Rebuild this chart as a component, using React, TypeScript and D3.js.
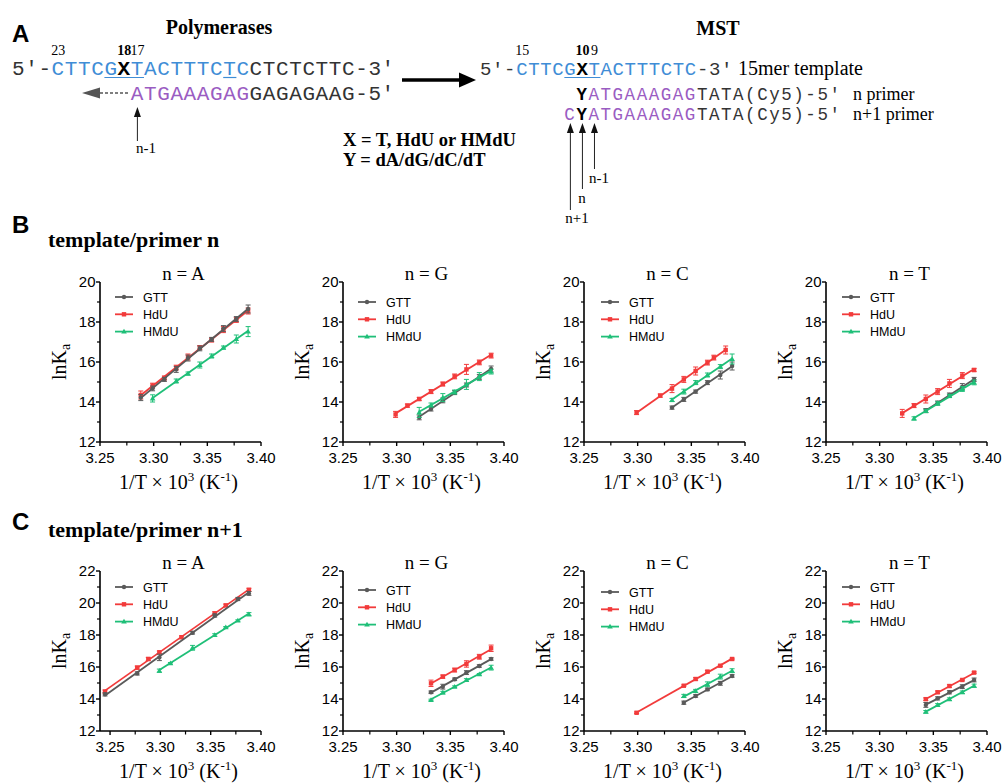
import React from "react";
import * as d3 from "d3";

type Pt = [number, number, number]; // [1/T*1e3, lnKa, error]

const seriesNames = ["GTT", "HdU", "HMdU"];
const drawOrder = ["HdU", "GTT", "HMdU"];
const panelTitles = ["n = A", "n = G", "n = C", "n = T"];
const xTickValues = [3.25, 3.3, 3.35, 3.4];
const xMinorTicks = [3.275, 3.325, 3.375];
const yTicksRowB = [12, 14, 16, 18, 20];
const yTicksRowC = [12, 14, 16, 18, 20, 22];

// ---- Panel B: template/primer n ----
const bA_GTT: Pt[] = [[3.288,14.22,0.15],[3.299,14.68,0.12],[3.310,15.13,0.1],[3.321,15.63,0.15],[3.332,16.2,0.15],[3.343,16.68,0.12],[3.354,17.13,0.1],[3.365,17.67,0.15],[3.377,18.15,0.12],[3.388,18.65,0.2]];
const bA_HdU: Pt[] = [[3.288,14.35,0.2],[3.299,14.82,0.12],[3.310,15.2,0.1],[3.321,15.72,0.12],[3.332,16.25,0.15],[3.343,16.72,0.1],[3.354,17.1,0.1],[3.365,17.62,0.15],[3.377,18.1,0.12],[3.388,18.55,0.15]];
const bA_HMdU: Pt[] = [[3.299,14.18,0.18],[3.321,15.05,0.1],[3.332,15.42,0.08],[3.343,15.85,0.15],[3.354,16.3,0.1],[3.365,16.72,0.08],[3.377,17.15,0.2],[3.388,17.52,0.25]];

const bG_GTT: Pt[] = [[3.321,13.23,0.12],[3.332,13.65,0.1],[3.343,14.08,0.12],[3.354,14.47,0.1],[3.365,14.85,0.1],[3.377,15.25,0.12],[3.388,15.65,0.15]];
const bG_HdU: Pt[] = [[3.299,13.38,0.15],[3.310,13.82,0.08],[3.321,14.15,0.08],[3.332,14.52,0.1],[3.343,14.9,0.1],[3.354,15.28,0.12],[3.365,15.63,0.25],[3.377,15.98,0.12],[3.388,16.32,0.12]];
const bG_HMdU: Pt[] = [[3.321,13.48,0.25],[3.332,13.85,0.1],[3.343,14.22,0.2],[3.354,14.5,0.1],[3.365,14.88,0.25],[3.377,15.27,0.2],[3.388,15.52,0.12]];

const bC_GTT: Pt[] = [[3.332,13.72,0.08],[3.343,14.13,0.1],[3.354,14.52,0.08],[3.365,14.97,0.1],[3.377,15.35,0.2],[3.388,15.8,0.2]];
const bC_HdU: Pt[] = [[3.299,13.47,0.1],[3.321,14.32,0.08],[3.332,14.67,0.2],[3.343,15.13,0.15],[3.354,15.55,0.2],[3.365,15.97,0.12],[3.371,16.22,0.12],[3.382,16.6,0.2]];
const bC_HMdU: Pt[] = [[3.332,14.1,0.08],[3.343,14.52,0.12],[3.354,14.97,0.1],[3.365,15.35,0.1],[3.377,15.77,0.1],[3.388,16.15,0.25]];

const bT_GTT: Pt[] = [[3.343,13.57,0.1],[3.354,13.95,0.1],[3.365,14.35,0.1],[3.377,14.77,0.15],[3.388,15.13,0.1]];
const bT_HdU: Pt[] = [[3.321,13.43,0.2],[3.332,13.82,0.1],[3.343,14.15,0.2],[3.354,14.52,0.15],[3.365,14.93,0.2],[3.377,15.32,0.15],[3.388,15.6,0.08]];
const bT_HMdU: Pt[] = [[3.332,13.18,0.08],[3.343,13.55,0.08],[3.354,13.93,0.08],[3.365,14.3,0.08],[3.377,14.65,0.12],[3.388,14.98,0.12]];

// ---- Panel C: template/primer n+1 ----
const cA_GTT: Pt[] = [[3.245,14.29,0.1],[3.277,15.6,0.1],[3.299,16.6,0.2],[3.332,18.14,0.08],[3.354,19.22,0.1],[3.377,20.25,0.1],[3.388,20.6,0.12]];
const cA_HdU: Pt[] = [[3.245,14.46,0.1],[3.277,15.96,0.1],[3.288,16.5,0.1],[3.299,16.92,0.08],[3.321,17.86,0.08],[3.354,19.35,0.1],[3.365,19.85,0.08],[3.388,20.82,0.1]];
const cA_HMdU: Pt[] = [[3.299,15.77,0.1],[3.310,16.23,0.05],[3.332,17.2,0.15],[3.354,18.0,0.08],[3.365,18.48,0.05],[3.377,18.9,0.05],[3.388,19.3,0.1]];

const cG_GTT: Pt[] = [[3.332,14.42,0.08],[3.343,14.77,0.15],[3.354,15.23,0.08],[3.365,15.65,0.12],[3.377,16.06,0.08],[3.388,16.5,0.08]];
const cG_HdU: Pt[] = [[3.332,14.98,0.2],[3.343,15.4,0.1],[3.354,15.81,0.12],[3.365,16.19,0.2],[3.377,16.64,0.15],[3.388,17.17,0.2]];
const cG_HMdU: Pt[] = [[3.332,13.94,0.05],[3.343,14.4,0.08],[3.354,14.77,0.05],[3.365,15.19,0.08],[3.377,15.54,0.05],[3.388,15.96,0.15]];

const cC_GTT: Pt[] = [[3.343,13.77,0.1],[3.354,14.19,0.08],[3.365,14.6,0.08],[3.377,14.98,0.12],[3.388,15.44,0.08]];
const cC_HdU: Pt[] = [[3.299,13.14,0.05],[3.343,14.83,0.05],[3.354,15.25,0.08],[3.365,15.71,0.08],[3.377,16.08,0.05],[3.388,16.5,0.05]];
const cC_HMdU: Pt[] = [[3.343,14.19,0.1],[3.354,14.5,0.1],[3.365,14.92,0.15],[3.377,15.4,0.15],[3.388,15.77,0.12]];

const cT_GTT: Pt[] = [[3.343,13.63,0.15],[3.354,14.04,0.1],[3.365,14.42,0.1],[3.377,14.77,0.12],[3.388,15.19,0.12]];
const cT_HdU: Pt[] = [[3.343,13.99,0.08],[3.354,14.42,0.08],[3.365,14.81,0.08],[3.377,15.19,0.05],[3.388,15.65,0.05]];
const cT_HMdU: Pt[] = [[3.343,13.2,0.08],[3.354,13.63,0.08],[3.365,13.99,0.08],[3.377,14.42,0.08],[3.388,14.83,0.1]];

const rowBData: Record<string, Pt[]>[] = [
  { GTT: bA_GTT, HdU: bA_HdU, HMdU: bA_HMdU },
  { GTT: bG_GTT, HdU: bG_HdU, HMdU: bG_HMdU },
  { GTT: bC_GTT, HdU: bC_HdU, HMdU: bC_HMdU },
  { GTT: bT_GTT, HdU: bT_HdU, HMdU: bT_HMdU },
];
const rowCData: Record<string, Pt[]>[] = [
  { GTT: cA_GTT, HdU: cA_HdU, HMdU: cA_HMdU },
  { GTT: cG_GTT, HdU: cG_HdU, HMdU: cG_HMdU },
  { GTT: cC_GTT, HdU: cC_HdU, HMdU: cC_HMdU },
  { GTT: cT_GTT, HdU: cT_HdU, HMdU: cT_HMdU },
];

// ---- styles / layout ----
const COLORS: Record<string, string> = { GTT: "#5a5a5a", HdU: "#f23b3b", HMdU: "#1fbf78" };
const BLUE = "#3f8dd6";
const PURPLE = "#9a5cc2";
const SEQGRAY = "#333333";
const SERIF = "'Liberation Serif', 'Times New Roman', serif";
const SANS = "'Liberation Sans', Arial, sans-serif";
const MONO = "'Liberation Mono', 'Courier New', monospace";

const PANEL_LEFT = [100, 343, 584, 826];
const PANEL_W = 161;
const ROW_B = { top: 282, bottom: 442, legendDy: [15, 20, 20, 15] };
const ROW_C = { top: 571, bottom: 731, legendDy: [16, 19, 21, 16] };
const LEGEND_DX = [15, 15, 17, 16];

function fit(pts: Pt[]) {
  const mx = d3.mean(pts, (p) => p[0])!;
  const my = d3.mean(pts, (p) => p[1])!;
  let sxy = 0, sxx = 0;
  pts.forEach((p) => { sxy += (p[0] - mx) * (p[1] - my); sxx += (p[0] - mx) ** 2; });
  const b = sxy / sxx;
  return { b, a: my - b * mx };
}

function Marker({ name, x, y }: { name: string; x: number; y: number }) {
  const c = COLORS[name];
  if (name === "HdU") return <rect x={x - 2.2} y={y - 2.2} width={4.4} height={4.4} fill={c} />;
  if (name === "HMdU") return <path d={`M${x},${y - 2.8}L${x + 2.8},${y + 2}L${x - 2.8},${y + 2}Z`} fill={c} />;
  return <circle cx={x} cy={y} r={2.2} fill={c} />;
}

function Panel(props: {
  idx: number; top: number; bottom: number; xDomain: [number, number]; yDomain: [number, number];
  yTicks: number[]; data: Record<string, Pt[]>; legendDy: number;
}) {
  const { idx, top, bottom, xDomain, yDomain, yTicks, data, legendDy } = props;
  const left = PANEL_LEFT[idx];
  const x = d3.scaleLinear().domain(xDomain).range([left, left + PANEL_W]);
  const y = d3.scaleLinear().domain(yDomain).range([bottom, top]);
  const yMinor = d3.range(yDomain[0] + 1, yDomain[1], 2);
  const cx = left + PANEL_W / 2;
  const line = d3.line<[number, number]>().x((d) => x(d[0])).y((d) => y(d[1]));
  return (
    <g>
      <text x={cx + 3} y={top - 2} textAnchor="middle" fontFamily={SERIF} fontSize={19}>{panelTitles[idx]}</text>
      {drawOrder.map((name) => {
        const pts = data[name];
        const { a, b } = fit(pts);
        const x0 = d3.min(pts, (p) => p[0])!;
        const x1 = d3.max(pts, (p) => p[0])!;
        const c = COLORS[name];
        return (
          <g key={name}>
            <path d={line([[x0, a + b * x0], [x1, a + b * x1]]) || ""} stroke={c} strokeWidth={1.8} fill="none" />
            {pts.map((p, i) => (
              <g key={i}>
                <line x1={x(p[0])} x2={x(p[0])} y1={y(p[1] - p[2])} y2={y(p[1] + p[2])} stroke={c} strokeWidth={1} />
                <line x1={x(p[0]) - 2.5} x2={x(p[0]) + 2.5} y1={y(p[1] - p[2])} y2={y(p[1] - p[2])} stroke={c} strokeWidth={1} />
                <line x1={x(p[0]) - 2.5} x2={x(p[0]) + 2.5} y1={y(p[1] + p[2])} y2={y(p[1] + p[2])} stroke={c} strokeWidth={1} />
                <Marker name={name} x={x(p[0])} y={y(p[1])} />
              </g>
            ))}
          </g>
        );
      })}
      {/* axes */}
      <line x1={left} x2={left} y1={top} y2={bottom} stroke="#000" strokeWidth={1.6} />
      <line x1={left} x2={left + PANEL_W} y1={bottom} y2={bottom} stroke="#000" strokeWidth={1.6} />
      {yTicks.map((t) => (
        <g key={"y" + t}>
          <line x1={left - 4} x2={left} y1={y(t)} y2={y(t)} stroke="#000" strokeWidth={1.4} />
          <text x={left - 4.5} y={y(t)} dy="0.36em" textAnchor="end" fontFamily={SANS} fontSize={15}>{t}</text>
        </g>
      ))}
      {yMinor.map((t) => (
        <line key={"ym" + t} x1={left - 3} x2={left} y1={y(t)} y2={y(t)} stroke="#000" strokeWidth={1.2} />
      ))}
      {xTickValues.map((t) => (
        <g key={"x" + t}>
          <line x1={x(t)} x2={x(t)} y1={bottom} y2={bottom + 4} stroke="#000" strokeWidth={1.4} />
          <text x={x(t)} y={bottom + 21} textAnchor="middle" fontFamily={SANS} fontSize={15}>{d3.format(".2f")(t)}</text>
        </g>
      ))}
      {xMinorTicks.map((t) => (
        <line key={"xm" + t} x1={x(t)} x2={x(t)} y1={bottom} y2={bottom + 3.5} stroke="#000" strokeWidth={1.2} />
      ))}
      {/* axis titles */}
      <text transform={`translate(${left - 34},${(top + bottom) / 2}) rotate(-90)`} textAnchor="middle" fontFamily={SERIF} fontSize={20}>
        lnK<tspan fontSize={14} dy={4}>a</tspan>
      </text>
      <text x={cx - 2} y={bottom + 47} textAnchor="middle" fontFamily={SERIF} fontSize={20}>
        1/T × 10<tspan fontSize={13} dy={-8}>3</tspan><tspan dy={8}> (K</tspan><tspan fontSize={13} dy={-8}>-1</tspan><tspan dy={8}>)</tspan>
      </text>
      {/* legend */}
      {seriesNames.map((name, i) => {
        const ly = top + legendDy + i * 17.3;
        const lx = left + LEGEND_DX[idx];
        return (
          <g key={"lg" + name}>
            <line x1={lx} x2={lx + 18} y1={ly} y2={ly} stroke={COLORS[name]} strokeWidth={1.8} />
            <Marker name={name} x={lx + 9} y={ly} />
            <text x={lx + 28} y={ly} dy="0.36em" fontFamily={SANS} fontSize={12.5}>{name}</text>
          </g>
        );
      })}
    </g>
  );
}

type Seg = { t: string; c: string; b?: boolean };
function SeqLine({ x0, y, adv, fs, start, segs }: { x0: number; y: number; adv: number; fs: number; start: number; segs: Seg[] }) {
  let idx = start;
  const ls = adv - fs * 0.6;
  return (
    <g>
      {segs.map((s, i) => {
        const el = (
          <text key={i} x={x0 + idx * adv} y={y} fontFamily={MONO} fontSize={fs} fill={s.c} letterSpacing={ls}
            fontWeight={s.b ? "bold" : "normal"}>
            {s.t}
          </text>
        );
        idx += s.t.length;
        return el;
      })}
    </g>
  );
}

const leftTemplate: Seg[] = [
  { t: "5'-", c: SEQGRAY }, { t: "CTTCG", c: BLUE }, { t: "X", c: "#000", b: true },
  { t: "TACTTTCTC", c: BLUE }, { t: "CTCTCTTC-3'", c: SEQGRAY },
];
const leftPrimer: Seg[] = [{ t: "ATGAAAGAG", c: PURPLE }, { t: "GAGAGAAG-5'", c: SEQGRAY }];
const rightTemplate: Seg[] = [
  { t: "5'-", c: SEQGRAY }, { t: "CTTCG", c: BLUE }, { t: "X", c: "#000", b: true },
  { t: "TACTTTCTC", c: BLUE }, { t: "-3'", c: SEQGRAY },
];
const primerN: Seg[] = [{ t: "Y", c: "#000", b: true }, { t: "ATGAAAGAG", c: PURPLE }, { t: "TATA(Cy5)-5'", c: SEQGRAY }];
const primerN1: Seg[] = [{ t: "C", c: PURPLE }, { t: "Y", c: "#000", b: true }, { t: "ATGAAAGAG", c: PURPLE }, { t: "TATA(Cy5)-5'", c: SEQGRAY }];

function UpArrow({ x, yTop, yBottom }: { x: number; yTop: number; yBottom: number }) {
  return (
    <g>
      <line x1={x} x2={x} y1={yTop + 8} y2={yBottom} stroke="#222" strokeWidth={1} />
      <path d={`M${x},${yTop}L${x + 3.5},${yTop + 10}L${x - 3.5},${yTop + 10}Z`} fill="#111" />
    </g>
  );
}

function PanelA() {
  const L0 = 12, LA = 13.2, R0 = 480, RA = 12.05;
  return (
    <g>
      <text x={12} y={42} fontFamily={SANS} fontWeight="bold" fontSize={24}>A</text>
      <text x={219} y={34} textAnchor="middle" fontFamily={SERIF} fontWeight="bold" fontSize={20}>Polymerases</text>
      <text x={718} y={35} textAnchor="middle" fontFamily={SERIF} fontWeight="bold" fontSize={20}>MST</text>

      {/* left numbering */}
      <text x={L0 + 3.5 * LA} y={55} textAnchor="middle" fontFamily={SERIF} fontSize={14}>23</text>
      <text x={L0 + 8.5 * LA} y={55} textAnchor="middle" fontFamily={SERIF} fontWeight="bold" fontSize={14}>18</text>
      <text x={L0 + 9.5 * LA} y={55} textAnchor="middle" fontFamily={SERIF} fontSize={14}>17</text>
      <SeqLine x0={L0} y={75} adv={LA} fs={21} start={0} segs={leftTemplate} />
      <line x1={L0 + 7 * LA} x2={L0 + 10 * LA} y1={77.5} y2={77.5} stroke={BLUE} strokeWidth={1.2} />
      <line x1={L0 + 16 * LA} x2={L0 + 17 * LA} y1={77.5} y2={77.5} stroke={BLUE} strokeWidth={1.2} />
      <SeqLine x0={L0} y={100} adv={LA} fs={21} start={9} segs={leftPrimer} />
      <path d="M82,93L100,87.5L100,98.5Z" fill="#555" />
      <line x1={100} x2={130} y1={93} y2={93} stroke="#555" strokeWidth={1.5} strokeDasharray="3,2" />
      <UpArrow x={L0 + 9.5 * LA} yTop={107} yBottom={141} />
      <text x={146} y={153} textAnchor="middle" fontFamily={SERIF} fontSize={15}>n-1</text>

      {/* big arrow */}
      <line x1={402} x2={462} y1={80} y2={80} stroke="#000" strokeWidth={3.5} />
      <path d="M476,80L459,72.5L459,87.5Z" fill="#000" />

      <text x={343} y={146} fontFamily={SERIF} fontWeight="bold" fontSize={18.5}>X = T, HdU or HMdU</text>
      <text x={343} y={166} fontFamily={SERIF} fontWeight="bold" fontSize={18.5}>Y = dA/dG/dC/dT</text>

      {/* right */}
      <text x={R0 + 3.5 * RA} y={55} textAnchor="middle" fontFamily={SERIF} fontSize={14}>15</text>
      <text x={R0 + 8.5 * RA} y={55} textAnchor="middle" fontFamily={SERIF} fontWeight="bold" fontSize={14}>10</text>
      <text x={R0 + 9.5 * RA} y={55} textAnchor="middle" fontFamily={SERIF} fontSize={14}>9</text>
      <SeqLine x0={R0} y={75} adv={RA} fs={19} start={0} segs={rightTemplate} />
      <line x1={R0 + 7 * RA} x2={R0 + 10 * RA} y1={77.5} y2={77.5} stroke={BLUE} strokeWidth={1.2} />
      <text x={738} y={75} fontFamily={SERIF} fontSize={20}>15mer template</text>
      <SeqLine x0={R0} y={100} adv={RA} fs={17.5} start={8} segs={primerN} />
      <text x={853} y={100} fontFamily={SERIF} fontSize={18}>n primer</text>
      <SeqLine x0={R0} y={120} adv={RA} fs={17.5} start={7} segs={primerN1} />
      <text x={853} y={120} fontFamily={SERIF} fontSize={18}>n+1 primer</text>
      <UpArrow x={R0 + 7.5 * RA} yTop={123} yBottom={210} />
      <UpArrow x={R0 + 8.5 * RA} yTop={123} yBottom={189} />
      <UpArrow x={R0 + 9.5 * RA} yTop={123} yBottom={169} />
      <text x={599} y={183} textAnchor="middle" fontFamily={SERIF} fontSize={15}>n-1</text>
      <text x={582} y={203} textAnchor="middle" fontFamily={SERIF} fontSize={15}>n</text>
      <text x={577} y={223} textAnchor="middle" fontFamily={SERIF} fontSize={15}>n+1</text>
    </g>
  );
}

export default function App() {
  return (
    <svg width={1004} height={783} viewBox="0 0 1004 783" style={{ position: "absolute", left: 0, top: 0, background: "#fff" }}>
      <rect x={0} y={0} width={1004} height={783} fill="#fff" />
      <PanelA />
      <text x={12} y={233} fontFamily={SANS} fontWeight="bold" fontSize={24}>B</text>
      <text x={48} y={247} fontFamily={SERIF} fontWeight="bold" fontSize={22}>template/primer n</text>
      {rowBData.map((d, i) => (
        <Panel key={"b" + i} idx={i} top={ROW_B.top} bottom={ROW_B.bottom} xDomain={[3.25, 3.4]} yDomain={[12, 20]}
          yTicks={yTicksRowB} data={d} legendDy={ROW_B.legendDy[i]} />
      ))}
      <text x={12} y={530} fontFamily={SANS} fontWeight="bold" fontSize={24}>C</text>
      <text x={48} y={537} fontFamily={SERIF} fontWeight="bold" fontSize={22}>template/primer n+1</text>
      {rowCData.map((d, i) => (
        <Panel key={"c" + i} idx={i} top={ROW_C.top} bottom={ROW_C.bottom} xDomain={i === 0 ? [3.24, 3.4] : [3.25, 3.4]} yDomain={[12, 22]}
          yTicks={yTicksRowC} data={d} legendDy={ROW_C.legendDy[i]} />
      ))}
    </svg>
  );
}
